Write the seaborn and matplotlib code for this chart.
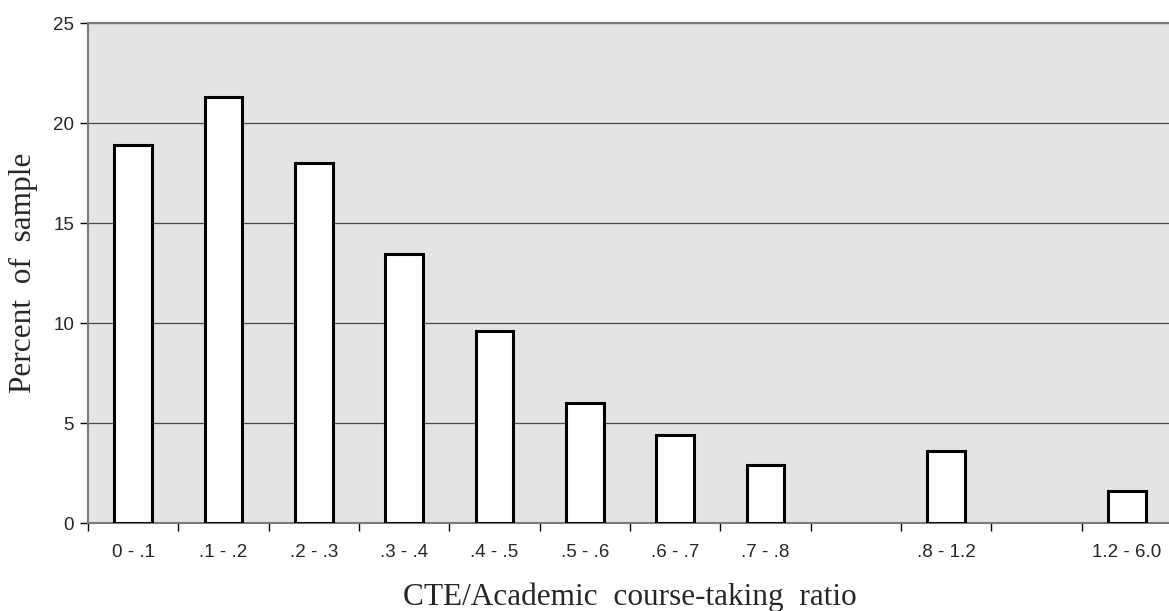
import numpy as np
import pandas as pd
import matplotlib
matplotlib.use("Agg")
import matplotlib.pyplot as plt
import seaborn as sns

# Ratio bins (empty slots keep the spacing of the wider bins)
slots = ["0 - .1", ".1 - .2", ".2 - .3", ".3 - .4", ".4 - .5", ".5 - .6",
         ".6 - .7", ".7 - .8", "gap1", ".8 - 1.2", "gap2", "1.2 - 6.0"]
slot_labels = ["0 - .1", ".1 - .2", ".2 - .3", ".3 - .4", ".4 - .5", ".5 - .6",
               ".6 - .7", ".7 - .8", "", ".8 - 1.2", "", "1.2 - 6.0"]
bins = ["0 - .1", ".1 - .2", ".2 - .3", ".3 - .4", ".4 - .5", ".5 - .6",
        ".6 - .7", ".7 - .8", ".8 - 1.2", "1.2 - 6.0"]
percent = [18.9, 21.3, 18.0, 13.45, 9.6, 6.0, 4.4, 2.9, 3.6, 1.6]

df = pd.DataFrame({"bin": bins, "percent": percent})

sns.set_style("white")
plt.rcParams["font.family"] = ["Liberation Sans", "DejaVu Sans"]

fig = plt.figure(figsize=(11.69, 6.11), dpi=100)
ax = fig.add_axes([88 / 1169, 1 - 523 / 611, 1084 / 1169, 500 / 611])
ax.set_facecolor("#e4e4e4")

sns.barplot(data=df, x="bin", y="percent", order=slots, color="white",
            edgecolor="black", linewidth=2.2, width=0.42, saturation=1,
            ax=ax, zorder=3)

ax.set_xlim(-0.5, 11.5)
ax.set_ylim(0, 25)
ax.set_yticks(np.arange(0, 26, 5))
ax.yaxis.grid(True, color="#4a4a4a", linewidth=0.9, zorder=1)
ax.set_axisbelow(True)

# Tick marks sit on the bin boundaries, labels at the bin centres
ax.set_xticks(np.arange(-0.5, 11.5, 1.0))
ax.set_xticklabels([])
ax.set_xticks(np.arange(12), minor=True)
ax.set_xticklabels(slot_labels, minor=True, fontsize=13.5)
ax.tick_params(axis="x", which="major", direction="out", length=6,
               width=1, color="black", bottom=True)
ax.tick_params(axis="x", which="minor", length=0, pad=15)
ax.tick_params(axis="y", direction="out", length=6, width=1,
               color="black", left=True, labelsize=13.5, pad=4)

for side in ["left", "bottom", "top"]:
    ax.spines[side].set_visible(True)
    ax.spines[side].set_color("#7a7a7a")
    ax.spines[side].set_linewidth(1.5)
ax.spines["right"].set_visible(False)

ax.set_xlabel("CTE/Academic  course-taking  ratio", fontsize=22.5,
              family="Liberation Serif")
ax.set_ylabel("Percent  of  sample", fontsize=22.5,
              family="Liberation Serif")
ax.xaxis.set_label_coords(0.5, -0.12)
ax.yaxis.set_label_coords(-0.0465, 0.5)

fig.savefig("out.png", dpi=100)
